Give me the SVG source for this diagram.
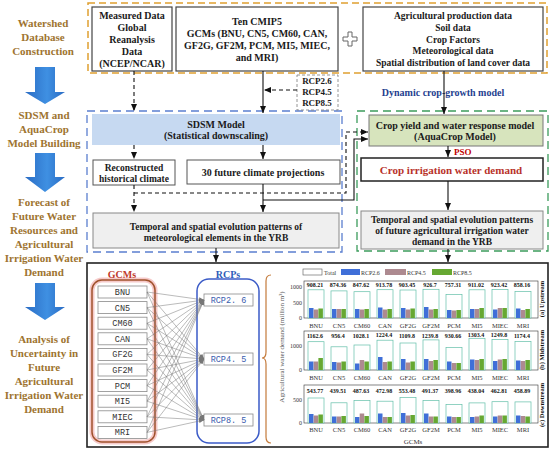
<svg xmlns="http://www.w3.org/2000/svg" width="550" height="453" viewBox="0 0 550 453">
<defs>
<style>
.b{font-family:"Liberation Serif",serif;font-weight:bold;fill:#1a1a1a;text-anchor:middle}
.lc{font-family:"Liberation Serif",serif;font-weight:bold;font-size:11px;fill:#9E7430;text-anchor:middle}
.f10{font-size:10px}.f95{font-size:9.5px}.f9{font-size:9px}
.box{fill:#fff;stroke:#444;stroke-width:1.2}
.gbox{fill:#EFEFEF;stroke:#888;stroke-width:1}
.mono{font-family:"Liberation Mono",monospace;font-size:8.5px;text-anchor:middle}
.sm{fill:#fff;stroke:#8a8a8a;stroke-width:0.8}
.sol{fill:none;stroke:#111;stroke-width:1.1}
.dsh{fill:none;stroke:#111;stroke-width:1.1;stroke-dasharray:4 3}
.gl{stroke:#777;stroke-width:0.5}
.v{font-family:"Liberation Serif",serif;font-weight:bold;font-size:6px;fill:#111;text-anchor:middle}
.x{font-family:"Liberation Serif",serif;font-size:6.5px;fill:#333;text-anchor:middle}
.t{font-family:"Liberation Serif",serif;font-size:6px;fill:#333;text-anchor:end}
.tot{fill:#fff;stroke:#63BFA9;stroke-width:0.7}
.r26{fill:#3F6FD8}.r45{fill:#AD8A90}.r85{fill:#66A832}
.pf{fill:none;stroke:#333;stroke-width:0.6}
</style>
<linearGradient id="ag" x1="0" y1="0" x2="1" y2="0">
<stop offset="0" stop-color="#2A6CC4"/><stop offset="0.55" stop-color="#3F90E2"/><stop offset="1" stop-color="#2A6CC4"/>
</linearGradient>
<marker id="ah" markerWidth="7" markerHeight="6" refX="7" refY="3" orient="auto" markerUnits="userSpaceOnUse">
<path d="M0,0 L7,3 L0,6 z" fill="#111"/>
</marker>
<marker id="ga" markerWidth="5" markerHeight="4" refX="5" refY="2" orient="auto" markerUnits="userSpaceOnUse">
<path d="M0,0 L5,2 L0,4 z" fill="#777"/>
</marker>
</defs>
<rect width="550" height="453" fill="#fff"/>

<!-- left column -->
<g id="stage1"><text class="lc" x="43" y="27">Watershed</text><text class="lc" x="43" y="41">Database</text><text class="lc" x="43" y="55">Construction</text></g>
<g id="arrow1"><path d="M35,67 H55 V92 H65 L45,104 L25,92 H35 Z" fill="url(#ag)"/></g>
<g id="stage2"><text class="lc" x="44" y="119">SDSM and</text><text class="lc" x="44" y="133">AquaCrop</text><text class="lc" x="44" y="147">Model Building</text></g>
<g id="arrow2"><path d="M35,153 H55 V177 H65 L45,192 L25,177 H35 Z" fill="url(#ag)"/></g>
<g id="stage3"><text class="lc" x="44" y="206">Forecast of</text><text class="lc" x="44" y="220">Future Water</text><text class="lc" x="44" y="234">Resources and</text><text class="lc" x="44" y="248">Agricultural</text><text class="lc" x="44" y="262">Irrigation Water</text><text class="lc" x="44" y="276">Demand</text></g>
<g id="arrow3"><path d="M35,283 H55 V307 H65 L45,320 L25,307 H35 Z" fill="url(#ag)"/></g>
<g id="stage4"><text class="lc" x="44" y="343">Analysis of</text><text class="lc" x="44" y="357">Uncertainty in</text><text class="lc" x="44" y="371">Future</text><text class="lc" x="44" y="385">Agricultural</text><text class="lc" x="44" y="399">Irrigation Water</text><text class="lc" x="44" y="413">Demand</text></g>

<!-- region frames -->
<g id="frames">
<rect x="88" y="3" width="459" height="70" fill="none" stroke="#E0A030" stroke-width="1.5" stroke-dasharray="7 4"/>
<rect x="87" y="111" width="255" height="141" fill="none" stroke="#5B7FCF" stroke-width="1.3" stroke-dasharray="8 5"/>
<rect x="357" y="111" width="191" height="140" fill="none" stroke="#3C9C5C" stroke-width="1.3" stroke-dasharray="8 5"/>
</g>

<g id="measured"><rect class="box" x="92" y="7" width="80" height="64"/>
<text class="b f10" x="132" y="19">Measured Data</text><text class="b f10" x="132" y="31">Global</text><text class="b f10" x="132" y="43">Reanalysis</text><text class="b f10" x="132" y="55">Data</text><text class="b f10" x="132" y="67">(NCEP/NCAR)</text></g>
<g id="cmip5"><rect class="box" x="176" y="7" width="162" height="64"/>
<text class="b f10" x="257" y="24.5">Ten CMIP5</text><text class="b f10" x="257" y="36.5">GCMs (BNU, CN5, CM60, CAN,</text><text class="b f10" x="257" y="48.5">GF2G, GF2M, PCM, MI5, MIEC,</text><text class="b f10" x="257" y="60.5">and MRI)</text></g>
<g id="plus"><path d="M348,32 H352 V37 H357 V41 H352 V46 H348 V41 H343 V37 H348 Z" fill="#fff" stroke="#666" stroke-width="1"/></g>
<g id="agdata"><rect class="box" x="363" y="7" width="180" height="64"/>
<text class="b f95" x="453" y="19">Agricultural production data</text><text class="b f95" x="453" y="31">Soil data</text><text class="b f95" x="453" y="42.7">Crop Factors</text><text class="b f95" x="453" y="54.3">Meteorological data</text><text class="b f95" x="453" y="66">Spatial distribution of land cover data</text></g>
<g id="rcpbox"><rect x="297" y="75" width="41" height="35" fill="#fff" stroke="#888" stroke-width="0.9" stroke-dasharray="3 2"/>
<text class="b f9" x="317" y="84">RCP2.6</text><text class="b f9" x="317" y="95">RCP4.5</text><text class="b f9" x="317" y="106">RCP8.5</text></g>
<g id="dyn"><text class="b f10" x="443" y="96" style="fill:#1F3F8F">Dynamic crop-growth model</text></g>

<g id="sdsm"><rect x="92" y="114" width="248" height="31" fill="#C6D9F1" stroke="none"/>
<text class="b f10" x="216" y="127.5">SDSM Model</text><text class="b f10" x="216" y="138.5">(Statistical downscaling)</text></g>
<g id="recon"><rect class="box" x="93" y="160" width="82" height="25" style="stroke:#555;stroke-width:1"/>
<text class="b f95" x="134" y="170.5">Reconstructed</text><text class="b f95" x="134" y="182">historical climate</text></g>
<g id="future30"><rect class="box" x="187" y="160" width="153" height="24" style="stroke:#555;stroke-width:1"/>
<text class="b f10" x="263" y="176">30 future climate projections</text></g>
<g id="tempL"><rect class="gbox" x="93" y="213" width="246" height="35"/>
<text class="b f95" x="216" y="229.5">Temporal and spatial evolution patterns of</text><text class="b f95" x="216" y="240.5">meteorological elements in the YRB</text></g>

<g id="aquacrop"><rect x="369" y="115" width="174" height="31" fill="#D7E4BD" stroke="#777" stroke-width="1"/>
<text class="b f10" x="455" y="128.5">Crop yield and water response model</text><text class="b f10" x="455" y="139.5">(AquaCrop Model)</text></g>
<g id="pso"><text class="b f9" x="454" y="155" style="fill:#C00000;text-anchor:start">PSO</text></g>
<g id="cropirr"><rect x="361" y="158" width="182" height="23" fill="#fff" stroke="#222" stroke-width="1.5"/>
<text class="b" x="451" y="174" style="font-size:11px;fill:#B8322A">Crop irrigation water demand</text></g>
<g id="tempR"><rect class="gbox" x="361" y="211" width="182" height="38"/>
<text class="b f95" x="452" y="223">Temporal and spatial evolution patterns</text><text class="b f95" x="452" y="234">of future agricultural irrigation water</text><text class="b f95" x="452" y="245">demand in the YRB</text></g>

<!-- bottom panel -->
<g id="panel"><rect x="87" y="263" width="461" height="184" fill="#fff" stroke="#222" stroke-width="1.6"/></g>
<g id="gcms">
<rect x="92" y="280" width="63" height="162" rx="10" fill="none" stroke="#F6CACA" stroke-width="5"/>
<rect x="92" y="280" width="63" height="162" rx="10" fill="none" stroke="#A0522D" stroke-width="1.5"/>
<text class="b f10" x="122" y="277.5" style="fill:#C0392B">GCMs</text>
<g class="mono" fill="#333">
<rect class="sm" x="98" y="286" width="49" height="12"/><text x="122.5" y="295">BNU</text>
<rect class="sm" x="98" y="301.6" width="49" height="12"/><text x="122.5" y="310.6">CN5</text>
<rect class="sm" x="98" y="317.2" width="49" height="12"/><text x="122.5" y="326.2">CM60</text>
<rect class="sm" x="98" y="332.8" width="49" height="12"/><text x="122.5" y="341.8">CAN</text>
<rect class="sm" x="98" y="348.4" width="49" height="12"/><text x="122.5" y="357.4">GF2G</text>
<rect class="sm" x="98" y="364" width="49" height="12"/><text x="122.5" y="373">GF2M</text>
<rect class="sm" x="98" y="379.6" width="49" height="12"/><text x="122.5" y="388.6">PCM</text>
<rect class="sm" x="98" y="395.2" width="49" height="12"/><text x="122.5" y="404.2">MI5</text>
<rect class="sm" x="98" y="410.8" width="49" height="12"/><text x="122.5" y="419.8">MIEC</text>
<rect class="sm" x="98" y="426.4" width="49" height="12"/><text x="122.5" y="435.4">MRI</text>
</g></g>
<g id="rcps">
<rect x="197" y="279" width="62" height="164" rx="12" fill="none" stroke="#3B5BC7" stroke-width="1.5"/>
<text class="b f10" x="228" y="277.5" style="fill:#2E5CB8">RCPs</text>
<g class="mono" fill="#3A5DAE">
<rect class="sm" x="204" y="294" width="49" height="12"/><text x="228.5" y="303">RCP2. 6</text>
<rect class="sm" x="204" y="353" width="49" height="12"/><text x="228.5" y="362">RCP4. 5</text>
<rect class="sm" x="204" y="414" width="49" height="12"/><text x="228.5" y="423">RCP8. 5</text>
</g></g>
<g id="brace"><path d="M271,275 Q266,275 266,281 V352 Q266,358 262,358 Q266,358 266,364 V437 Q266,443 271,443" fill="none" stroke="#C47A3A" stroke-width="1.2"/></g>

<g id="connectors">
<path class="dsh" d="M134,71 V111" marker-end="url(#ah)"/>
<path class="sol" d="M263,71 V113" marker-end="url(#ah)"/>
<path class="dsh" d="M297,90 H264" marker-end="url(#ah)"/>
<path class="sol" d="M444,71 V114" marker-end="url(#ah)"/>
<path class="dsh" d="M134,145 V159" marker-end="url(#ah)"/>
<path class="sol" d="M263,145 V159" marker-end="url(#ah)"/>
<path class="dsh" d="M134,185 V212" marker-end="url(#ah)"/>
<path class="dsh" d="M134,193 H346 V132 H368" marker-end="url(#ah)"/>
<path class="sol" d="M263,184 V212" marker-end="url(#ah)"/>
<path class="sol" d="M263,200 H354 V139 H368" marker-end="url(#ah)"/>
<path class="sol" d="M448,146 V157" marker-end="url(#ah)"/>
<path class="sol" d="M448,181 V210" marker-end="url(#ah)"/>
<path class="sol" d="M216,248 V262" marker-end="url(#ah)"/>
<path class="sol" d="M448,249 V262" marker-end="url(#ah)"/>
<g class="gl" marker-end="url(#ga)">
<line x1="147" y1="292" x2="204" y2="300"/><line x1="147" y1="292" x2="204" y2="359"/><line x1="147" y1="292" x2="204" y2="420"/>
<line x1="147" y1="307.6" x2="204" y2="300"/><line x1="147" y1="307.6" x2="204" y2="359"/><line x1="147" y1="307.6" x2="204" y2="420"/>
<line x1="147" y1="323.2" x2="204" y2="300"/><line x1="147" y1="323.2" x2="204" y2="359"/><line x1="147" y1="323.2" x2="204" y2="420"/>
<line x1="147" y1="338.8" x2="204" y2="300"/><line x1="147" y1="338.8" x2="204" y2="359"/><line x1="147" y1="338.8" x2="204" y2="420"/>
<line x1="147" y1="354.4" x2="204" y2="300"/><line x1="147" y1="354.4" x2="204" y2="359"/><line x1="147" y1="354.4" x2="204" y2="420"/>
<line x1="147" y1="370" x2="204" y2="300"/><line x1="147" y1="370" x2="204" y2="359"/><line x1="147" y1="370" x2="204" y2="420"/>
<line x1="147" y1="385.6" x2="204" y2="300"/><line x1="147" y1="385.6" x2="204" y2="359"/><line x1="147" y1="385.6" x2="204" y2="420"/>
<line x1="147" y1="401.2" x2="204" y2="300"/><line x1="147" y1="401.2" x2="204" y2="359"/><line x1="147" y1="401.2" x2="204" y2="420"/>
<line x1="147" y1="416.8" x2="204" y2="300"/><line x1="147" y1="416.8" x2="204" y2="359"/><line x1="147" y1="416.8" x2="204" y2="420"/>
<line x1="147" y1="432.4" x2="204" y2="300"/><line x1="147" y1="432.4" x2="204" y2="359"/><line x1="147" y1="432.4" x2="204" y2="420"/>
</g>
</g>

<!-- chart -->
<g id="chart">
<text transform="translate(284,347) rotate(-90)" style="font-family:'Liberation Serif',serif;font-size:7px;fill:#555;text-anchor:middle">Agricultural water demand (million m³)</text>
<g id="legend">
<rect x="303" y="269" width="19" height="6" fill="#fff" stroke="#555" stroke-width="0.6"/><text x="324" y="274.5" style="font-family:'Liberation Serif',serif;font-size:6px;fill:#333">Total</text>
<rect class="r26" x="341" y="269" width="19" height="6"/><text x="361" y="274.5" style="font-family:'Liberation Serif',serif;font-size:6px;fill:#333">RCP2.6</text>
<rect class="r45" x="385" y="269" width="21" height="6"/><text x="407" y="274.5" style="font-family:'Liberation Serif',serif;font-size:6px;fill:#333">RCP4.5</text>
<rect class="r85" x="432" y="269" width="20" height="6"/><text x="453" y="274.5" style="font-family:'Liberation Serif',serif;font-size:6px;fill:#333">RCP8.5</text>
</g>
<!-- panel a -->
<g id="pa">
<rect class="pf" x="304" y="281" width="234" height="37"/>
<text class="t" x="302" y="289">1000</text><text class="t" x="302" y="304.5">500</text><text class="t" x="302" y="320">0</text>
<rect class="tot" x="308" y="289.8" width="16" height="28.2"/><rect class="r26" x="309" y="308" width="4.5" height="10"/><rect class="r45" x="313.7" y="309.5" width="4.5" height="8.5"/><rect class="r85" x="318.4" y="308.5" width="4.5" height="9.5"/>
<rect class="tot" x="331" y="290.9" width="16" height="27.1"/><rect class="r26" x="332" y="309" width="4.5" height="9"/><rect class="r45" x="336.7" y="309" width="4.5" height="9"/><rect class="r85" x="341.4" y="309" width="4.5" height="9"/>
<rect class="tot" x="354" y="291.7" width="16" height="26.3"/><rect class="r26" x="355" y="309" width="4.5" height="9"/><rect class="r45" x="359.7" y="309.5" width="4.5" height="8.5"/><rect class="r85" x="364.4" y="309" width="4.5" height="9"/>
<rect class="tot" x="377" y="289.7" width="16" height="28.3"/><rect class="r26" x="378" y="307.5" width="4.5" height="10.5"/><rect class="r45" x="382.7" y="309.5" width="4.5" height="8.5"/><rect class="r85" x="387.4" y="309" width="4.5" height="9"/>
<rect class="tot" x="400" y="290" width="16" height="28"/><rect class="r26" x="401" y="308" width="4.5" height="10"/><rect class="r45" x="405.7" y="309.5" width="4.5" height="8.5"/><rect class="r85" x="410.4" y="308.5" width="4.5" height="9.5"/>
<rect class="tot" x="423" y="289.3" width="16" height="28.7"/><rect class="r26" x="424" y="307" width="4.5" height="11"/><rect class="r45" x="428.7" y="309.5" width="4.5" height="8.5"/><rect class="r85" x="433.4" y="309" width="4.5" height="9"/>
<rect class="tot" x="446" y="294.5" width="16" height="23.5"/><rect class="r26" x="447" y="310" width="4.5" height="8"/><rect class="r45" x="451.7" y="310.5" width="4.5" height="7.5"/><rect class="r85" x="456.4" y="310" width="4.5" height="8"/>
<rect class="tot" x="469" y="289.8" width="16" height="28.2"/><rect class="r26" x="470" y="309" width="4.5" height="9"/><rect class="r45" x="474.7" y="309" width="4.5" height="9"/><rect class="r85" x="479.4" y="308" width="4.5" height="10"/>
<rect class="tot" x="492" y="289.4" width="16" height="28.6"/><rect class="r26" x="493" y="309.5" width="4.5" height="8.5"/><rect class="r45" x="497.7" y="308" width="4.5" height="10"/><rect class="r85" x="502.4" y="308" width="4.5" height="10"/>
<rect class="tot" x="515" y="291.4" width="16" height="26.6"/><rect class="r26" x="516" y="308.5" width="4.5" height="9.5"/><rect class="r45" x="520.7" y="310" width="4.5" height="8"/><rect class="r85" x="525.4" y="309" width="4.5" height="9"/>
<text class="v" x="315" y="286.5">908.21</text><text class="v" x="338" y="286.5">874.36</text><text class="v" x="361" y="286.5">847.62</text><text class="v" x="384" y="286.5">913.78</text><text class="v" x="407" y="286.5">903.45</text><text class="v" x="430" y="286.5">926.7</text><text class="v" x="453" y="286.5">757.31</text><text class="v" x="476" y="286.5">911.02</text><text class="v" x="499" y="286.5">923.42</text><text class="v" x="522" y="286.5">858.16</text>
<text class="x" x="316" y="327.5">BNU</text><text class="x" x="339" y="327.5">CN5</text><text class="x" x="362" y="327.5">CM60</text><text class="x" x="385" y="327.5">CAN</text><text class="x" x="408" y="327.5">GF2G</text><text class="x" x="431" y="327.5">GF2M</text><text class="x" x="454" y="327.5">PCM</text><text class="x" x="477" y="327.5">MI5</text><text class="x" x="500" y="327.5">MIEC</text><text class="x" x="523" y="327.5">MRI</text>
<text class="v" transform="translate(544,299) rotate(-90)" style="font-size:6.5px">(a) Upstream</text>
</g>
<!-- panel b -->
<g id="pb">
<rect class="pf" x="304" y="331" width="234" height="39"/>
<text class="t" x="302" y="348">1000</text><text class="t" x="302" y="372">0</text>
<rect class="tot" x="308" y="341.7" width="16" height="28.3"/><rect class="r26" x="309" y="361.5" width="4.5" height="8.5"/><rect class="r45" x="313.7" y="361.5" width="4.5" height="8.5"/><rect class="r85" x="318.4" y="358" width="4.5" height="12"/>
<rect class="tot" x="331" y="346.8" width="16" height="23.2"/><rect class="r26" x="332" y="362" width="4.5" height="8"/><rect class="r45" x="336.7" y="362.5" width="4.5" height="7.5"/><rect class="r85" x="341.4" y="361.5" width="4.5" height="8.5"/>
<rect class="tot" x="354" y="345" width="16" height="25"/><rect class="r26" x="355" y="363.5" width="4.5" height="6.5"/><rect class="r45" x="359.7" y="360" width="4.5" height="10"/><rect class="r85" x="364.4" y="361.5" width="4.5" height="8.5"/>
<rect class="tot" x="377" y="340.2" width="16" height="29.8"/><rect class="r26" x="378" y="357" width="4.5" height="13"/><rect class="r45" x="382.7" y="362" width="4.5" height="8"/><rect class="r85" x="387.4" y="361.5" width="4.5" height="8.5"/>
<rect class="tot" x="400" y="343" width="16" height="27"/><rect class="r26" x="401" y="359" width="4.5" height="11"/><rect class="r45" x="405.7" y="362.5" width="4.5" height="7.5"/><rect class="r85" x="410.4" y="361.5" width="4.5" height="8.5"/>
<rect class="tot" x="423" y="339.9" width="16" height="30.1"/><rect class="r26" x="424" y="359" width="4.5" height="11"/><rect class="r45" x="428.7" y="361" width="4.5" height="9"/><rect class="r85" x="433.4" y="360" width="4.5" height="10"/>
<rect class="tot" x="446" y="347.4" width="16" height="22.6"/><rect class="r26" x="447" y="361.5" width="4.5" height="8.5"/><rect class="r45" x="451.7" y="363" width="4.5" height="7"/><rect class="r85" x="456.4" y="363" width="4.5" height="7"/>
<rect class="tot" x="469" y="338.3" width="16" height="31.7"/><rect class="r26" x="470" y="359.5" width="4.5" height="10.5"/><rect class="r45" x="474.7" y="360" width="4.5" height="10"/><rect class="r85" x="479.4" y="359" width="4.5" height="11"/>
<rect class="tot" x="492" y="339.6" width="16" height="30.4"/><rect class="r26" x="493" y="361" width="4.5" height="9"/><rect class="r45" x="497.7" y="359.5" width="4.5" height="10.5"/><rect class="r85" x="502.4" y="359" width="4.5" height="11"/>
<rect class="tot" x="515" y="341.5" width="16" height="28.5"/><rect class="r26" x="516" y="360.5" width="4.5" height="9.5"/><rect class="r45" x="520.7" y="361" width="4.5" height="9"/><rect class="r85" x="525.4" y="360" width="4.5" height="10"/>
<text class="v" x="315" y="337.5">1162.6</text><text class="v" x="338" y="337.5">956.4</text><text class="v" x="361" y="337.5">1028.1</text><text class="v" x="384" y="336.5">1224.4</text><text class="v" x="407" y="337.5">1109.8</text><text class="v" x="430" y="337.5">1239.8</text><text class="v" x="453" y="338">930.66</text><text class="v" x="476" y="336.5">1303.4</text><text class="v" x="499" y="337">1249.8</text><text class="v" x="522" y="337.5">1174.4</text>
<text class="x" x="316" y="380">BNU</text><text class="x" x="339" y="380">CN5</text><text class="x" x="362" y="380">CM60</text><text class="x" x="385" y="380">CAN</text><text class="x" x="408" y="380">GF2G</text><text class="x" x="431" y="380">GF2M</text><text class="x" x="454" y="380">PCM</text><text class="x" x="477" y="380">MI5</text><text class="x" x="500" y="380">MIEC</text><text class="x" x="523" y="380">MRI</text>
<text class="v" transform="translate(544,350) rotate(-90)" style="font-size:6.5px">(b) Midstream</text>
</g>
<!-- panel c -->
<g id="pc">
<rect class="pf" x="304" y="385" width="234" height="38"/>
<text class="t" x="302" y="402">500</text><text class="t" x="302" y="425">0</text>
<rect class="tot" x="308" y="398" width="16" height="25"/><rect class="r26" x="309" y="414" width="4.5" height="9"/><rect class="r45" x="313.7" y="415.5" width="4.5" height="7.5"/><rect class="r85" x="318.4" y="414.5" width="4.5" height="8.5"/>
<rect class="tot" x="331" y="402.8" width="16" height="20.2"/><rect class="r26" x="332" y="416.5" width="4.5" height="6.5"/><rect class="r45" x="336.7" y="416.5" width="4.5" height="6.5"/><rect class="r85" x="341.4" y="416" width="4.5" height="7"/>
<rect class="tot" x="354" y="400.6" width="16" height="22.4"/><rect class="r26" x="355" y="417" width="4.5" height="6"/><rect class="r45" x="359.7" y="413.5" width="4.5" height="9.5"/><rect class="r85" x="364.4" y="416" width="4.5" height="7"/>
<rect class="tot" x="377" y="401.2" width="16" height="21.8"/><rect class="r26" x="378" y="413.5" width="4.5" height="9.5"/><rect class="r45" x="382.7" y="417" width="4.5" height="6"/><rect class="r85" x="387.4" y="417" width="4.5" height="6"/>
<rect class="tot" x="400" y="397.5" width="16" height="25.5"/><rect class="r26" x="401" y="413" width="4.5" height="10"/><rect class="r45" x="405.7" y="415.5" width="4.5" height="7.5"/><rect class="r85" x="410.4" y="415" width="4.5" height="8"/>
<rect class="tot" x="423" y="400.4" width="16" height="22.6"/><rect class="r26" x="424" y="413.5" width="4.5" height="9.5"/><rect class="r45" x="428.7" y="416.5" width="4.5" height="6.5"/><rect class="r85" x="433.4" y="416.5" width="4.5" height="6.5"/>
<rect class="tot" x="446" y="404.6" width="16" height="18.4"/><rect class="r26" x="447" y="416.5" width="4.5" height="6.5"/><rect class="r45" x="451.7" y="417" width="4.5" height="6"/><rect class="r85" x="456.4" y="417" width="4.5" height="6"/>
<rect class="tot" x="469" y="402.9" width="16" height="20.1"/><rect class="r26" x="470" y="417" width="4.5" height="6"/><rect class="r45" x="474.7" y="416.5" width="4.5" height="6.5"/><rect class="r85" x="479.4" y="415.5" width="4.5" height="7.5"/>
<rect class="tot" x="492" y="401.7" width="16" height="21.3"/><rect class="r26" x="493" y="416.5" width="4.5" height="6.5"/><rect class="r45" x="497.7" y="415.5" width="4.5" height="7.5"/><rect class="r85" x="502.4" y="415.5" width="4.5" height="7.5"/>
<rect class="tot" x="515" y="401.9" width="16" height="21.1"/><rect class="r26" x="516" y="415.5" width="4.5" height="7.5"/><rect class="r45" x="520.7" y="416" width="4.5" height="7"/><rect class="r85" x="525.4" y="416.5" width="4.5" height="6.5"/>
<text class="v" x="315" y="392.5">543.77</text><text class="v" x="338" y="392.5">439.51</text><text class="v" x="361" y="392.5">487.63</text><text class="v" x="384" y="392.5">472.98</text><text class="v" x="407" y="392.5">553.48</text><text class="v" x="430" y="392.5">491.37</text><text class="v" x="453" y="392.5">398.96</text><text class="v" x="476" y="392.5">438.04</text><text class="v" x="499" y="392.5">462.81</text><text class="v" x="522" y="392.5">458.89</text>
<text class="x" x="316" y="432">BNU</text><text class="x" x="339" y="432">CN5</text><text class="x" x="362" y="432">CM60</text><text class="x" x="385" y="432">CAN</text><text class="x" x="408" y="432">GF2G</text><text class="x" x="431" y="432">GF2M</text><text class="x" x="454" y="432">PCM</text><text class="x" x="477" y="432">MI5</text><text class="x" x="500" y="432">MIEC</text><text class="x" x="523" y="432">MRI</text>
<text class="x" x="413" y="444" style="font-size:7px">GCMs</text>
<text class="v" transform="translate(544,405) rotate(-90)" style="font-size:6.5px">(c) Downstream</text>
</g>
</g>
</svg>
